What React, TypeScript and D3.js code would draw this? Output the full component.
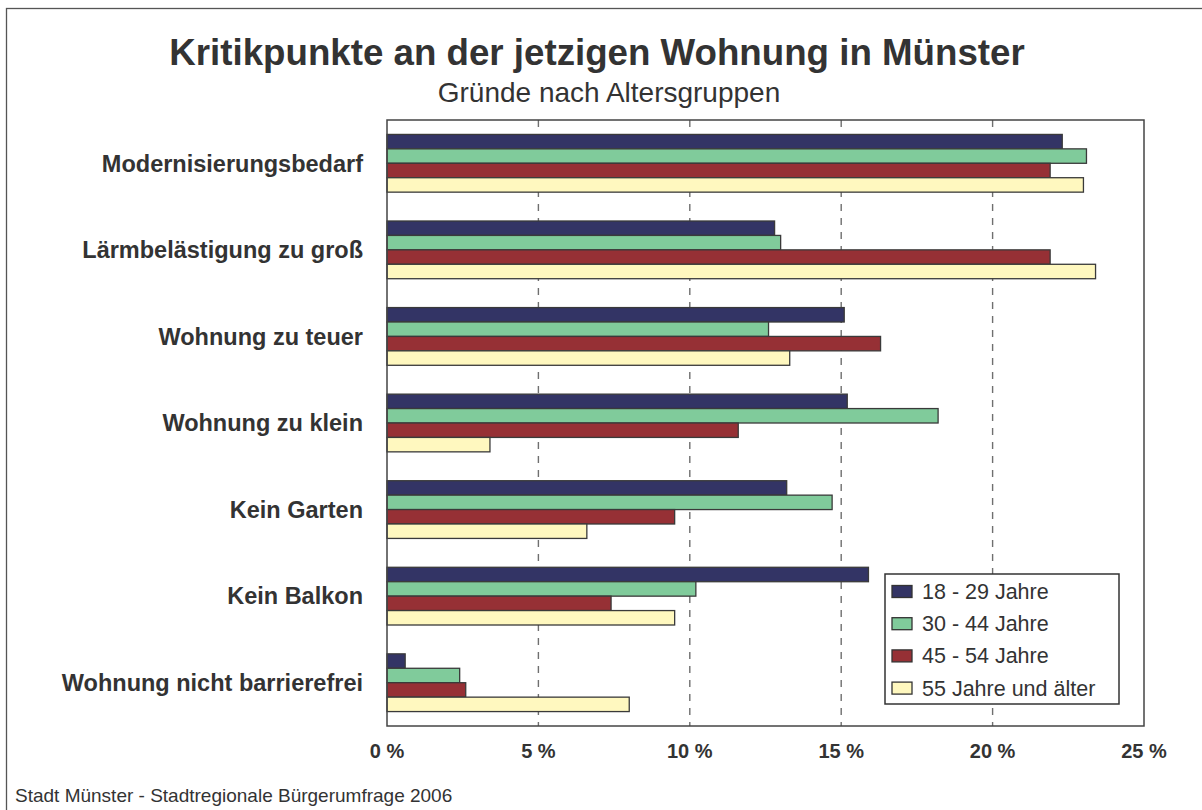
import React, { useEffect, useRef } from "react";
import * as d3 from "d3";

const categories = [
  "Modernisierungsbedarf",
  "Lärmbelästigung zu groß",
  "Wohnung zu teuer",
  "Wohnung zu klein",
  "Kein Garten",
  "Kein Balkon",
  "Wohnung nicht barrierefrei",
];

const seriesNames = ["18 - 29 Jahre", "30 - 44 Jahre", "45 - 54 Jahre", "55 Jahre und älter"];
const seriesColors = ["#333465", "#80cb9b", "#963035", "#fff8bf"];

const age18to29 = [22.3, 12.8, 15.1, 15.2, 13.2, 15.9, 0.6];
const age30to44 = [23.1, 13.0, 12.6, 18.2, 14.7, 10.2, 2.4];
const age45to54 = [21.9, 21.9, 16.3, 11.6, 9.5, 7.4, 2.6];
const age55plus = [23.0, 23.4, 13.3, 3.4, 6.6, 9.5, 8.0];

const xTicks = [0, 5, 10, 15, 20, 25];

const FONT = "'Liberation Sans', Arial, sans-serif";
const TEXT = "#333333";

const App = () => {
  const svgRef = useRef(null);
  const width = 1202;
  const height = 810;

  useEffect(() => {
    const svg = d3.select(svgRef.current);
    svg.selectAll("*").remove();

    const marginLeft = 387;
    const marginRight = 1144;
    const marginTop = 120;
    const marginBottom = 726;

    const allSeries = [age18to29, age30to44, age45to54, age55plus];

    // outer frame
    svg
      .append("rect")
      .attr("x", 6.5)
      .attr("y", 8.5)
      .attr("width", 1200)
      .attr("height", 810)
      .attr("fill", "white")
      .attr("stroke", "#555")
      .attr("stroke-width", 1.3);

    // title
    svg
      .append("text")
      .attr("x", 597)
      .attr("y", 65)
      .attr("text-anchor", "middle")
      .style("font-family", FONT)
      .style("font-weight", "bold")
      .style("font-size", "36.7px")
      .style("fill", TEXT)
      .text("Kritikpunkte an der jetzigen Wohnung in Münster");

    svg
      .append("text")
      .attr("x", 609)
      .attr("y", 102)
      .attr("text-anchor", "middle")
      .style("font-family", FONT)
      .style("font-size", "28px")
      .style("fill", TEXT)
      .text("Gründe nach Altersgruppen");

    const x = d3.scaleLinear().domain([0, 25]).range([marginLeft, marginRight]);

    const y = d3
      .scaleBand()
      .domain(categories)
      .range([marginTop, marginBottom])
      .paddingInner(1 / 3)
      .paddingOuter(1 / 6);

    const ySub = d3
      .scaleBand()
      .domain(seriesNames)
      .range([0, y.bandwidth()]);

    // dashed grid
    svg
      .append("g")
      .selectAll("line")
      .data(xTicks.filter((t) => t > 0 && t < 25))
      .enter()
      .append("line")
      .attr("x1", (d) => x(d))
      .attr("x2", (d) => x(d))
      .attr("y1", marginTop)
      .attr("y2", marginBottom)
      .attr("stroke", "#6f6f6f")
      .attr("stroke-width", 1.4)
      .attr("stroke-dasharray", "7,7");

    // bars
    allSeries.forEach((values, si) => {
      svg
        .append("g")
        .selectAll("rect")
        .data(values)
        .enter()
        .append("rect")
        .attr("x", x(0))
        .attr("y", (d, i) => y(categories[i]) + ySub(seriesNames[si]))
        .attr("width", (d) => x(d) - x(0))
        .attr("height", ySub.bandwidth())
        .attr("fill", seriesColors[si])
        .attr("stroke", "#3a3a3a")
        .attr("stroke-width", 1.3);
    });

    // plot frame
    svg
      .append("rect")
      .attr("x", marginLeft)
      .attr("y", marginTop)
      .attr("width", marginRight - marginLeft)
      .attr("height", marginBottom - marginTop)
      .attr("fill", "none")
      .attr("stroke", "#444")
      .attr("stroke-width", 1.5);

    // category labels
    svg
      .append("g")
      .selectAll("text")
      .data(categories)
      .enter()
      .append("text")
      .attr("x", 363)
      .attr("y", (d) => y(d) + y.bandwidth() / 2)
      .attr("dy", "0.35em")
      .attr("text-anchor", "end")
      .style("font-family", FONT)
      .style("font-weight", "bold")
      .style("font-size", "23.5px")
      .style("fill", TEXT)
      .text((d) => d);

    // x tick labels
    svg
      .append("g")
      .selectAll("text")
      .data(xTicks)
      .enter()
      .append("text")
      .attr("x", (d) => x(d))
      .attr("y", 758)
      .attr("text-anchor", "middle")
      .style("font-family", FONT)
      .style("font-weight", "bold")
      .style("font-size", "20px")
      .style("fill", TEXT)
      .text((d) => `${d} %`);

    // legend
    const legend = svg.append("g").attr("transform", "translate(885,574)");
    legend
      .append("rect")
      .attr("width", 234)
      .attr("height", 130)
      .attr("fill", "white")
      .attr("stroke", "#333")
      .attr("stroke-width", 1.5);

    seriesNames.forEach((name, i) => {
      const row = legend.append("g").attr("transform", `translate(0, ${17.5 + i * 32.2})`);
      row
        .append("rect")
        .attr("x", 7)
        .attr("y", -6)
        .attr("width", 20)
        .attr("height", 12)
        .attr("fill", seriesColors[i])
        .attr("stroke", "#333")
        .attr("stroke-width", 1.3);
      row
        .append("text")
        .attr("x", 37)
        .attr("y", 0)
        .attr("dy", "0.35em")
        .style("font-family", FONT)
        .style("font-size", "21.5px")
        .style("fill", TEXT)
        .text(name);
    });

    // footer
    svg
      .append("text")
      .attr("x", 15)
      .attr("y", 802)
      .style("font-family", FONT)
      .style("font-size", "19px")
      .style("fill", TEXT)
      .text("Stadt Münster - Stadtregionale Bürgerumfrage 2006");
  }, []);

  return (
    <svg
      ref={svgRef}
      width={width}
      height={height}
      style={{ position: "absolute", left: 0, top: 0, background: "white" }}
    ></svg>
  );
};

export default App;
